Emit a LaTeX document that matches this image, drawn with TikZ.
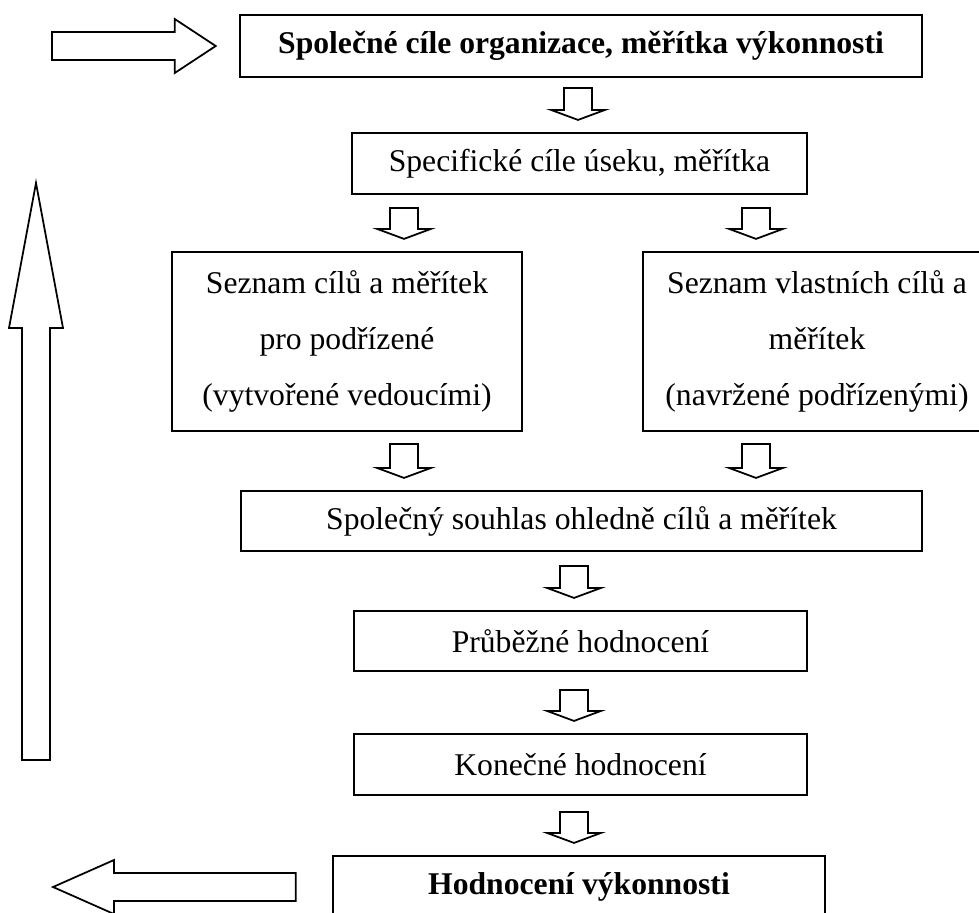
\documentclass[tikz,border=0pt]{standalone}
\usepackage{fontspec}
\setmainfont{Liberation Serif}
\usetikzlibrary{calc}

\tikzset{
	box/.style={draw, line width=0.6pt, align=center, inner sep=0pt, font=\fontsize{9pt}{15.9pt}\selectfont},
	gap from/.store in=\gapfrom,
	gap to/.store in=\gapto,
	gap from=0.12cm, gap to=0.12cm,
	hollow/.style={line width=0.5pt, to path={
		($(\tikztostart)!\gapfrom!(\tikztotarget)$) coordinate (hs)
		($(\tikztotarget)!\gapto!(\tikztostart)$) coordinate (ht)
		($(ht)!#1!(hs)$) coordinate (hb)
		($(hs)!0.14cm!90:(ht)$) -- ($(hb)!0.14cm!90:(ht)$) -- ($(hb)!0.27cm!90:(ht)$) -- (ht)
		-- ($(hb)!0.27cm!-90:(ht)$) -- ($(hb)!0.14cm!-90:(ht)$) -- ($(hs)!0.14cm!-90:(ht)$) -- cycle}},
	hollow/.default=0.1cm
}

\begin{document}
\begin{tikzpicture}[x=0.01cm, y=-0.01cm]
	\useasboundingbox (0,0) rectangle (979,912);
	
	\node[box, minimum width=6.82cm, minimum height=0.62cm] (goals) at (581,46) {\textbf{Společné cíle organizace, měřítka výkonnosti}};
	\node[box, minimum width=4.55cm, minimum height=0.61cm] (spec) at (579.5,163.5) {Specifické cíle úseku, měřítka};
	\node[box, minimum width=3.50cm, minimum height=1.79cm] (boss) at (347,341.5) {Seznam cílů a měřítek\\pro podřízené\\(vytvořené vedoucími)};
	\node[box, minimum width=3.48cm, minimum height=1.79cm] (own) at (817,341.5) {Seznam vlastních cílů a\\měřítek\\(navržené podřízenými)};
	\node[box, minimum width=6.81cm, minimum height=0.60cm] (agree) at (581.5,521) {Společný souhlas ohledně cílů a měřítek};
	\node[box, minimum width=4.53cm, minimum height=0.60cm] (interim) at (580.5,641) {Průběžné hodnocení};
	\node[box, minimum width=4.53cm, minimum height=0.61cm] (final) at (580.5,764.5) {Konečné hodnocení};
	\node[box, minimum width=4.92cm, minimum height=0.62cm] (result) at (579,887) {\textbf{Hodnocení výkonnosti}};
	
	\coordinate (c0) at (578,0);
	\coordinate (c1) at (404,0);
	\coordinate (c2) at (756,0);
	\coordinate (c3) at (574,0);
	
	\foreach \a/\b/\c/\g in {goals/spec/c0/0.10cm, spec/boss/c1/0.13cm, spec/own/c2/0.13cm,
		boss/agree/c1/0.12cm, own/agree/c2/0.12cm, agree/interim/c3/0.14cm,
		interim/final/c3/0.18cm, final/result/c3/0.16cm}
	\draw[hollow, gap from=\g] (\a.south -| \c) to (\b.north -| \c);
	
	\coordinate (in) at (52,46);
	\coordinate (out) at (53,887);
	\coordinate (fb0) at (36,760);
	\coordinate (fb1) at (36,183);
	
	\draw[hollow=0.41cm, gap from=0cm, gap to=0.23cm] (in) to (goals.west);
	\draw[hollow=0.61cm, gap from=0.36cm, gap to=0cm] (result.west) to (out);
	\draw[hollow=1.45cm, gap from=0cm, gap to=0cm] (fb0) to (fb1);
\end{tikzpicture}
\end{document}
